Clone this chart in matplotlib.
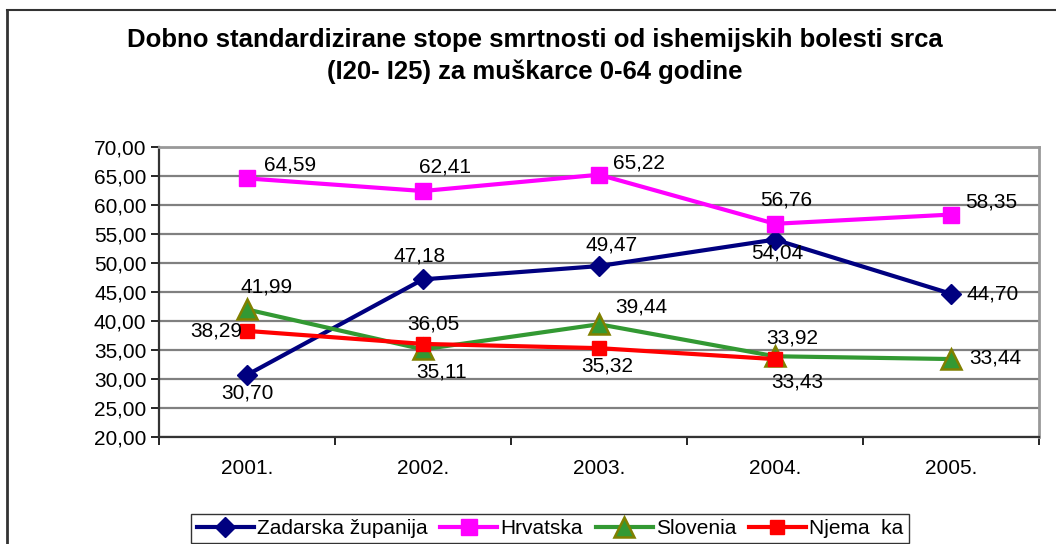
import matplotlib.pyplot as plt
from matplotlib.lines import Line2D

plt.rcParams['font.family'] = ['Liberation Sans', 'DejaVu Sans']

years = ['2001.', '2002.', '2003.', '2004.', '2005.']
zadar = [30.70, 47.18, 49.47, 54.04, 44.70]
hrvatska = [64.59, 62.41, 65.22, 56.76, 58.35]
slovenia = [41.99, 35.11, 39.44, 33.92, 33.44]
njemacka = [38.29, 36.05, 35.32, 33.43]
names = ['Zadarska županija', 'Hrvatska', 'Slovenia', 'Njema  ka']
yticks = [20, 25, 30, 35, 40, 45, 50, 55, 60, 65, 70]

# label offsets in pixels (dx, dy), one per point
offs = [
    [(0, -18), (-3, 23), (13, 21), (2, -13), (42, 0)],
    [(43, 13), (22, 24), (40, 12), (11, 24), (40, 13)],
    [(20, 22), (19, -23), (42, 17), (17, 18), (44, 1)],
    [(-31, 0), (10, 20), (8, -18), (22, -23)],
]

fig = plt.figure(figsize=(10.56, 5.44), dpi=100)
ax = fig.add_axes([159/1056, 1-437/544, 880/1056, 290/544])

series = [zadar, hrvatska, slovenia, njemacka]
styles = [
    dict(color='#000080', marker='D', ms=10.5, mfc='#000080', mec='#000080'),
    dict(color='#FF00FF', marker='s', ms=11.5, mfc='#FF00FF', mec='#FF00FF'),
    dict(color='#339933', marker='^', ms=14, mfc='#339933', mec='#808000', mew=1.8),
    dict(color='#FF0000', marker='s', ms=10, mfc='#FF0000', mec='#FF0000'),
]
for vals, st, name, off in zip(series, styles, names, offs):
    xs = [i + 0.5 for i in range(len(vals))]
    ax.plot(xs, vals, lw=3, label=name, zorder=3, **st)
    for x, v, (dx, dy) in zip(xs, vals, off):
        ax.annotate(f'{v:.2f}'.replace('.', ','), (x, v), xytext=(dx*0.72, dy*0.72),
                    textcoords='offset points', ha='center', va='center',
                    fontsize=15, zorder=4)

ax.set_xlim(0, 5)
ax.set_ylim(20, 70)
ax.set_yticks(yticks)
ax.set_yticklabels([f'{t:.2f}'.replace('.', ',') for t in yticks], fontsize=15)
ax.set_xticks(range(6))
ax.set_xticklabels([])
ax.set_xticks([i + 0.5 for i in range(5)], minor=True)
ax.set_xticklabels(years, minor=True, fontsize=15)
ax.tick_params(axis='x', which='minor', length=0, pad=16)
ax.tick_params(axis='x', which='major', length=6, width=1.2, color='#000000')
ax.tick_params(axis='y', length=6, width=1.2, pad=3)
ax.yaxis.grid(True, color='#808080', lw=1.6)
ax.set_axisbelow(True)
for s in ['top', 'right']:
    ax.spines[s].set_color('#999999')
    ax.spines[s].set_linewidth(2)
for s in ['left', 'bottom']:
    ax.spines[s].set_color('#333333')
    ax.spines[s].set_linewidth(1.6)

fig.text(535/1056, 1-40/544, 'Dobno standardizirane stope smrtnosti od ishemijskih bolesti srca',
         ha='center', va='center', fontsize=18.5, fontweight='bold')
fig.text(535/1056, 1-72/544, '(I20- I25) za muškarce 0-64 godine',
         ha='center', va='center', fontsize=18.5, fontweight='bold')

leg = fig.legend(loc='upper center', bbox_to_anchor=(550/1056, 1-514/544), ncol=4,
                 fontsize=15, frameon=True, fancybox=False, edgecolor='black',
                 handlelength=2.75, handletextpad=0.15, columnspacing=0.6,
                 borderpad=0.25, borderaxespad=0)
leg.get_frame().set_linewidth(1)

fig.add_artist(Line2D([7/1056, 7/1056], [0, 1-10/544], transform=fig.transFigure, color='#333333', lw=2))
fig.add_artist(Line2D([7/1056, 1], [1-10/544, 1-10/544], transform=fig.transFigure, color='#333333', lw=1.5))

fig.savefig('out.png', dpi=100)
